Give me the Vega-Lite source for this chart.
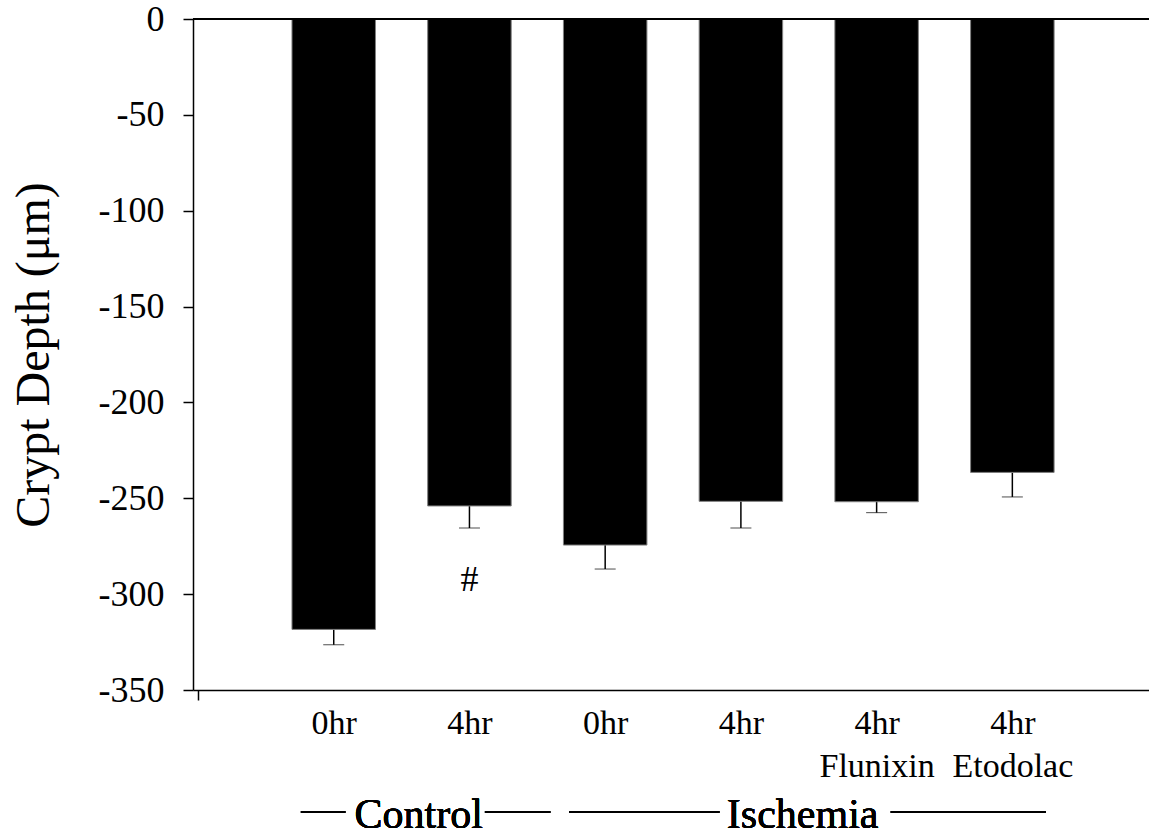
{
  "$schema": "https://vega.github.io/schema/vega-lite/v6.json",
  "width": 956,
  "height": 671,
  "autosize": {"type": "none"},
  "padding": {"left": 193, "top": 19, "right": 0, "bottom": 149},
  "background": "white",
  "config": {
    "view": {"stroke": null},
    "font": "Liberation Serif",
    "axis": {"grid": false, "domainColor": "black", "tickColor": "black", "labelColor": "black", "titleColor": "black", "labelFont": "Liberation Serif", "titleFont": "Liberation Serif", "titleFontWeight": "normal"}
  },
  "data": {
    "values": [
      {"n": 1, "group": "Control", "time": "0hr", "treatment": "", "depth": -318.4, "sem": 8.0, "sig": ""},
      {"n": 2, "group": "Control", "time": "4hr", "treatment": "", "depth": -254.0, "sem": 11.5, "sig": "#"},
      {"n": 3, "group": "Ischemia", "time": "0hr", "treatment": "", "depth": -274.4, "sem": 12.5, "sig": ""},
      {"n": 4, "group": "Ischemia", "time": "4hr", "treatment": "", "depth": -251.6, "sem": 13.9, "sig": ""},
      {"n": 5, "group": "Ischemia", "time": "4hr", "treatment": "Flunixin", "depth": -251.8, "sem": 5.7, "sig": ""},
      {"n": 6, "group": "Ischemia", "time": "4hr", "treatment": "Etodolac", "depth": -236.5, "sem": 12.8, "sig": ""}
    ]
  },
  "encoding": {
    "x": {
      "field": "n", "type": "quantitative",
      "scale": {"domain": [0, 6.97], "nice": false, "zero": false},
      "axis": {
        "orient": "bottom", "title": null,
        "values": [0, 1, 2, 3, 4, 5, 6],
        "labelExpr": "datum.value == 1 ? '0hr' : datum.value == 2 ? '4hr' : datum.value == 3 ? '0hr' : datum.value == 4 ? '4hr' : datum.value == 5 ? ['4hr', 'Flunixin'] : datum.value == 6 ? ['4hr', 'Etodolac'] : ''",
        "labelFontSize": 34, "labelLineHeight": 43, "labelFlush": false, "labelOverlap": false, "labelBound": false,
        "labelPadding": 6, "tickSize": 10, "tickWidth": 1.5, "domainWidth": 1.5, "domainColor": "black", "labelColor": "black",
        "tickOpacity": {"condition": {"test": "datum.value == 0", "value": 1}, "value": 0}
      }
    },
    "y": {
      "field": "depth", "type": "quantitative",
      "scale": {"domain": [-350, 0], "nice": false, "zero": false},
      "axis": {
        "orient": "left", "title": "Crypt Depth (μm)",
        "values": [-350, -300, -250, -200, -150, -100, -50, 0],
        "labelExpr": "toString(datum.value)",
        "labelFontSize": 36, "labelPadding": 19, "tickSize": 10, "tickWidth": 1.5, "domainWidth": 1.5, "domainColor": "black",
        "titleFontSize": 48, "titleAngle": -90, "titleAlign": "center", "titleBaseline": "middle",
        "titleX": -159, "titleY": 335.5
      }
    }
  },
  "layer": [
    {
      "mark": {"type": "errorbar", "ticks": {"size": 21, "color": "black", "strokeWidth": 1.5}, "rule": {"color": "black", "strokeWidth": 1.5}},
      "encoding": {"yError": {"field": "sem"}}
    },
    {
      "mark": {"type": "bar", "width": 83.5, "color": "black", "stroke": "#808080", "strokeWidth": 1}
    },
    {
      "mark": {"type": "text", "fontSize": 36, "dy": 85, "baseline": "alphabetic", "align": "center", "color": "black"},
      "encoding": {"text": {"field": "sig"}}
    },
    {
      "mark": {"type": "rule", "color": "black", "strokeWidth": 1.5},
      "encoding": {"y": {"datum": 0, "type": "quantitative"}, "x": null}
    },
    {
      "mark": {"type": "rule", "color": "black", "strokeWidth": 1.5},
      "encoding": {"x": {"datum": 0.758, "type": "quantitative"}, "x2": {"datum": 1.086}, "y": {"datum": -413.6, "type": "quantitative"}}
    },
    {
      "mark": {"type": "rule", "color": "black", "strokeWidth": 1.5},
      "encoding": {"x": {"datum": 2.114, "type": "quantitative"}, "x2": {"datum": 2.596}, "y": {"datum": -413.6, "type": "quantitative"}}
    },
    {
      "mark": {"type": "rule", "color": "black", "strokeWidth": 1.5},
      "encoding": {"x": {"datum": 2.734, "type": "quantitative"}, "x2": {"datum": 3.842}, "y": {"datum": -413.6, "type": "quantitative"}}
    },
    {
      "mark": {"type": "rule", "color": "black", "strokeWidth": 1.5},
      "encoding": {"x": {"datum": 5.104, "type": "quantitative"}, "x2": {"datum": 6.248}, "y": {"datum": -413.6, "type": "quantitative"}}
    },
    {
      "mark": {"type": "text", "text": "Control", "fontSize": 42, "baseline": "alphabetic", "align": "center", "color": "black"},
      "encoding": {"x": {"datum": 1.626, "type": "quantitative"}, "y": {"datum": -422, "type": "quantitative"}}
    },
    {
      "mark": {"type": "text", "text": "Ischemia", "fontSize": 42, "baseline": "alphabetic", "align": "center", "color": "black"},
      "encoding": {"x": {"datum": 4.455, "type": "quantitative"}, "y": {"datum": -422, "type": "quantitative"}}
    }
  ]
}
